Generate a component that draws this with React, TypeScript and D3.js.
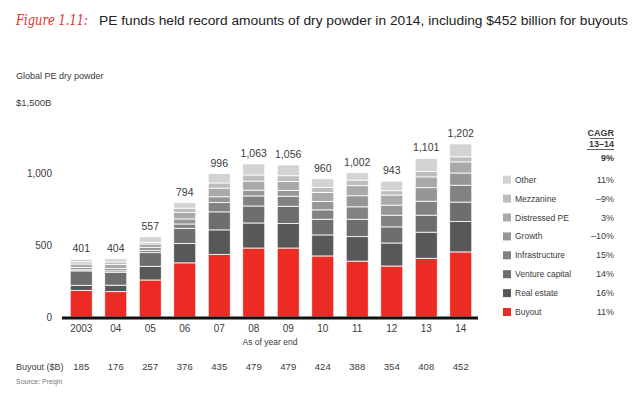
import React from 'react';
import * as d3 from 'd3';

const WIDTH = 640;
const HEIGHT = 397;

// chart data, bottom segment first
const years = ['2003', '04', '05', '06', '07', '08', '09', '10', '11', '12', '13', '14'];
const totals = [401, 404, 557, 794, 996, 1063, 1056, 960, 1002, 943, 1101, 1202];
const buyout = [185, 176, 257, 376, 435, 479, 479, 424, 388, 354, 408, 452];
const realEstate = [35, 45, 95, 135, 170, 174, 170, 146, 170, 160, 181, 212];
const ventureCapital = [100, 90, 95, 105, 125, 118, 120, 109, 121, 112, 118, 134];
const infrastructure = [8, 10, 15, 30, 65, 70, 70, 65, 86, 81, 97, 117];
const growth = [15, 15, 20, 35, 40, 40, 40, 58, 77, 70, 94, 85];
const distressed = [25, 28, 25, 45, 60, 63, 62, 63, 70, 70, 75, 77];
const mezzanine = [15, 18, 12, 30, 36, 42, 40, 35, 39, 30, 38, 35];
const other = [18, 22, 38, 38, 65, 77, 75, 60, 51, 66, 90, 90];

const seriesNames = ['Buyout', 'Real estate', 'Venture capital', 'Infrastructure', 'Growth', 'Distressed PE', 'Mezzanine', 'Other'];
const seriesValues = [buyout, realEstate, ventureCapital, infrastructure, growth, distressed, mezzanine, other];
const seriesColors = ['#ec2b24', '#58585a', '#6e6e70', '#828284', '#969698', '#a9a9ab', '#bdbdbf', '#d3d3d5'];
const cagr = ['11%', '16%', '14%', '15%', '\u201310%', '3%', '\u20139%', '11%'];

const yTicks = [0, 500, 1000];

const FONT = "'Liberation Sans', Arial, sans-serif";
const TEXT = '#3a3a3a';

export default function App() {
  const x = d3.scaleBand<string>().domain(years).range([64, 478]).paddingInner(0.36).paddingOuter(0.18);
  const y = d3.scaleLinear().domain([0, 1500]).range([317, 101]);

  const table = years.map((yr, i) => {
    const row: Record<string, number | string> = { year: yr };
    seriesNames.forEach((n, j) => (row[n] = seriesValues[j][i]));
    return row;
  });
  const stacked = d3.stack<any>().keys(seriesNames)(table);

  return (
    <svg width={WIDTH} height={HEIGHT} style={{ position: 'absolute', left: 0, top: 0, background: '#fff' }} fontFamily={FONT}>
      {/* title */}
      <text x={16} y={25} fontFamily="'DejaVu Serif', serif" fontStyle="italic" fontSize={14} fill="#e0302a"
        textLength={72} lengthAdjust="spacingAndGlyphs">Figure 1.11:</text>
      <text x={99} y={25} fontSize={13.5} fill="#222" textLength={529} lengthAdjust="spacingAndGlyphs">
        PE funds held record amounts of dry powder in 2014, including $452 billion for buyouts
      </text>

      <text x={16} y={79} fontSize={9} fill={TEXT}>Global PE dry powder</text>
      <text x={16} y={106} fontSize={9.5} fill={TEXT}>$1,500B</text>

      {yTicks.map(t => (
        <text key={t} x={52} y={y(t) + 3.5} fontSize={10} fill={TEXT} textAnchor="end">{d3.format(',')(t)}</text>
      ))}

      {/* bars */}
      {stacked.map((s, j) => (
        <g key={s.key} fill={seriesColors[j]}>
          {s.map((d, i) => (
            <rect key={i} x={x(years[i])} width={x.bandwidth()} y={y(d[1])} height={y(d[0]) - y(d[1])}
              stroke="#fff" strokeWidth={0.8} />
          ))}
        </g>
      ))}

      {/* totals */}
      {years.map((yr, i) => (
        <text key={yr} x={(x(yr) as number) + x.bandwidth() / 2} y={y(totals[i]) - 7} fontSize={10.5} fill={TEXT} textAnchor="middle">
          {d3.format(',')(totals[i])}
        </text>
      ))}

      <line x1={62} x2={478} y1={318} y2={318} stroke="#111" strokeWidth={3} />

      {years.map(yr => (
        <text key={yr} x={(x(yr) as number) + x.bandwidth() / 2} y={332} fontSize={10} fill={TEXT} textAnchor="middle">{yr}</text>
      ))}
      <text x={270} y={345} fontSize={8.5} fill={TEXT} textAnchor="middle">As of year end</text>

      <text x={16} y={370} fontSize={9} fill={TEXT}>Buyout ($B)</text>
      {years.map((yr, i) => (
        <text key={yr} x={(x(yr) as number) + x.bandwidth() / 2} y={370} fontSize={9.5} fill={TEXT} textAnchor="middle">{buyout[i]}</text>
      ))}
      <text x={16} y={384} fontSize={7} fill="#777">Source: Preqin</text>

      {/* legend */}
      <text x={614} y={136} fontSize={9} fontWeight="bold" fill={TEXT} textAnchor="end">CAGR</text>
      <line x1={590} x2={614} y1={138.5} y2={138.5} stroke={TEXT} strokeWidth={0.8} />
      <text x={614} y={147} fontSize={9} fontWeight="bold" fill={TEXT} textAnchor="end">13–14</text>
      <line x1={587} x2={614} y1={149.5} y2={149.5} stroke={TEXT} strokeWidth={0.8} />
      <text x={614} y={161} fontSize={9} fontWeight="bold" fill={TEXT} textAnchor="end">9%</text>

      {seriesNames.map((n, j) => {
        const ry = 312 - j * 18.9;
        return (
          <g key={n}>
            <rect x={503} y={ry - 4} width={8} height={8} fill={seriesColors[j]} />
            <text x={515} y={ry + 3} fontSize={8.5} fill={TEXT}>{n}</text>
            <text x={614} y={ry + 3} fontSize={9} fill={TEXT} textAnchor="end">{cagr[j]}</text>
          </g>
        );
      })}
    </svg>
  );
}
